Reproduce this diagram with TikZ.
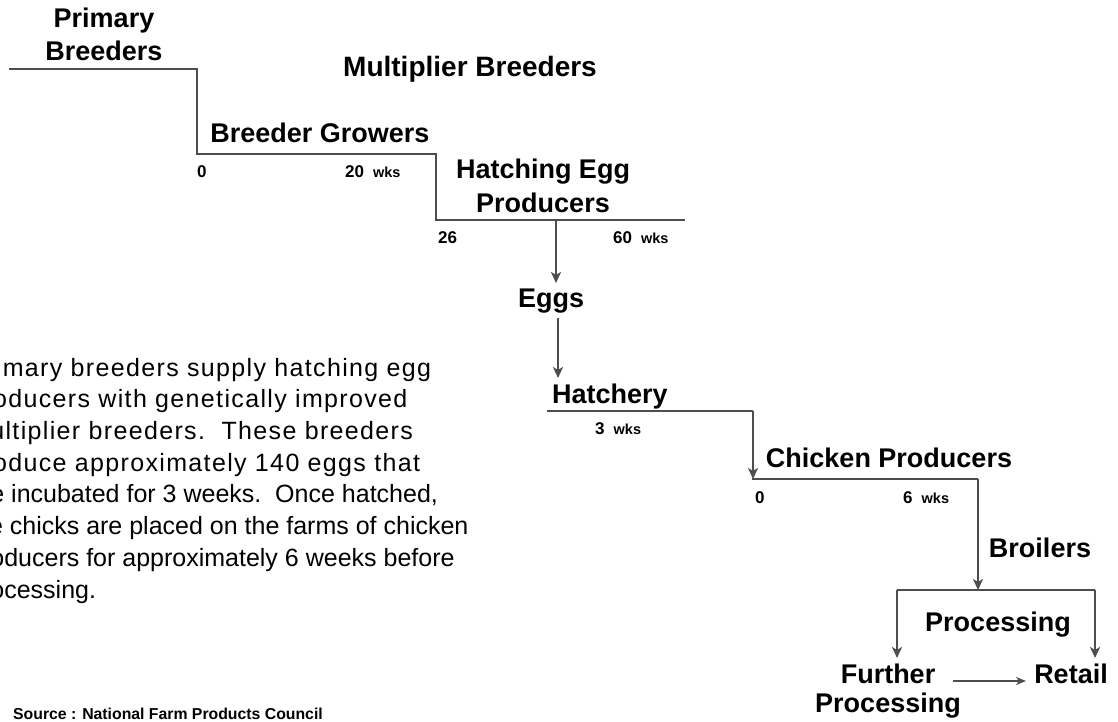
\documentclass[tikz,border=0pt]{standalone}
\usepackage{fontspec}
\setmainfont{Liberation Sans}
\newfontfamily\parA{Liberation Sans}[LetterSpace=5.4]
\usetikzlibrary{arrows.meta}
\definecolor{ln}{HTML}{4D4D4D}
\begin{document}
\begin{tikzpicture}[x=1pt,y=-1pt,
  lab/.style={inner sep=0pt,font=\bfseries\fontsize{27}{33.5}\selectfont,align=center,anchor=base},
  num/.style={inner sep=0pt,font=\bfseries\fontsize{17}{20}\selectfont,anchor=base west},
  ln/.style={draw=ln,line width=2.6pt,line join=miter},
  arr/.style={ln,-{Stealth[length=11pt,width=10pt,inset=3pt]}},
  thinarr/.style={draw=ln,line width=1.8pt,-{Stealth[length=10pt,width=8pt,inset=3pt]}}]
\newcommand{\wk}{\hspace{9pt}{\fontsize{14.5}{16}\selectfont wks}}
\useasboundingbox (0,0) rectangle (1118,722);
\clip (0,0) rectangle (1118,722);
% labels (base anchor = baseline of last line)
\node[lab] (pb) at (104,61) {Primary\\Breeders};
\node[lab,font=\bfseries\fontsize{28}{33.5}\selectfont] (mb) at (470,77) {Multiplier Breeders};
\node[lab] (bg) at (320,143) {Breeder Growers};
\node[lab] (hep) at (543,212) {Hatching Egg\\Producers};
\node[lab] (eggs) at (551,307) {Eggs};
\node[lab,anchor=base west] (hat) at (552,403) {Hatchery};
\node[lab] (cp) at (889,467) {Chicken Producers};
\node[lab] (br) at (1040,557) {Broilers};
\node[lab] (proc) at (998,631) {Processing};
\node[lab,font=\bfseries\fontsize{27}{29}\selectfont] (fp) at (888,712) {Further\\Processing};
\node[lab] (ret) at (1071,683) {Retail};
% week marks
\node[num] (n0a) at (197,178) {0};
\node[num] (n20) at (345,178) {20\wk};
\node[num] (n26) at (438,243) {26};
\node[num] (n60) at (613,243) {60\wk};
\node[num] (n3) at (595,434) {3\wk};
\node[num] (n0b) at (755,503) {0};
\node[num] (n6) at (903,503) {6\wk};
% source
\node[inner sep=0pt,anchor=base west,font=\bfseries\fontsize{15.8}{18}\selectfont] (src) at (13,719) {Source : National Farm Products Council};
% paragraph
\node[inner sep=0pt,anchor=base west,align=left,font=\fontsize{25}{31.7}\selectfont] (para) at (-32,598)
 {\parA Primary breeders supply hatching egg\\
  \parA producers with genetically improved\\
  \parA multiplier breeders.\ \ These breeders\\
  \parA produce approximately 140 eggs that\\
  are incubated for 3 weeks.\ \ Once hatched,\\
  the chicks are placed on the farms of chicken\\
  producers for approximately 6 weeks before\\
  processing.};
% connector coordinates
\coordinate (s0) at (9,69);
\coordinate (s1) at (197,69);
\coordinate (s2) at (197,154);
\coordinate (s3) at (436,154);
\coordinate (s4) at (436,220);
\coordinate (s5) at (685,220);
\coordinate (e0) at (556,220);
\coordinate (e1) at (556,283);
\coordinate (e2) at (558,318);
\coordinate (e3) at (558,378);
\coordinate (h0) at (547,411);
\coordinate (h1) at (753,411);
\coordinate (h2) at (753,479);
\coordinate (c0) at (752,479);
\coordinate (c1) at (978,479);
\coordinate (c2) at (978,590);
\coordinate (p0) at (897,590);
\coordinate (p1) at (1095,590);
\coordinate (p2) at (897,658);
\coordinate (p3) at (1095,658);
\coordinate (f0) at (953,681);
\coordinate (f1) at (1026,681);
% connectors
\draw[ln] (s0) -- (s1) -- (s2) -- (s3) -- (s4) -- (s5);
\draw[arr] (e0) -- (e1);
\draw[arr] (e2) -- (e3);
\draw[ln] (h0) -- (h1);
\draw[arr] (h1) -- (h2);
\draw[ln] (c0) -- (c1);
\draw[arr] (c1) -- (c2);
\draw[ln] (p0) -- (p1);
\draw[arr] (p0) -- (p2);
\draw[arr] (p1) -- (p3);
\draw[thinarr] (f0) -- (f1);
\end{tikzpicture}
\end{document}
